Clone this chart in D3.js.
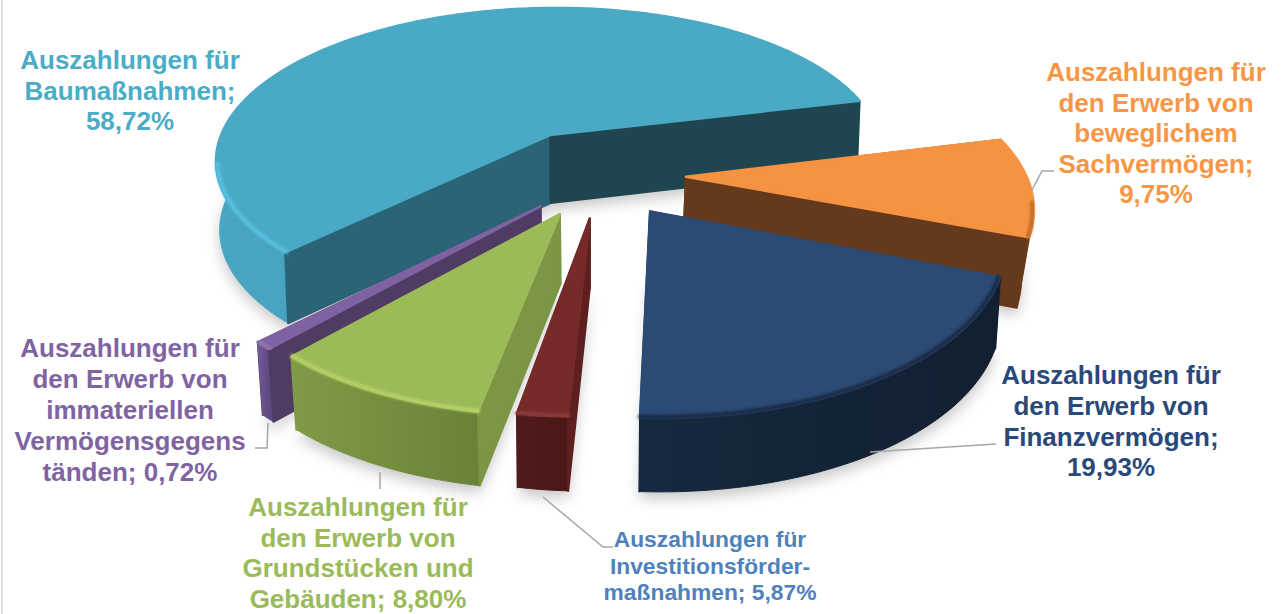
<!DOCTYPE html>
<html><head><meta charset="utf-8">
<script src="https://cdnjs.cloudflare.com/ajax/libs/d3/7.8.5/d3.min.js"></script>
<style>html,body{margin:0;padding:0;background:#fff;overflow:hidden}svg{display:block}text{font-family:"Liberation Sans",Arial,sans-serif;font-weight:700}</style>
</head><body><svg id="c" width="1287" height="614"></svg>
<script>
// ---- data ----
const categories = ["Baumaßnahmen","Bewegliches Sachvermögen","Finanzvermögen","Investitionsfördermaßnahmen","Grundstücke und Gebäude","Immaterielle Vermögensgegenstände"];
const plottedShares = [58.72, 9.75, 19.93, 2.08, 8.80, 0.72];
const labelLines = [
 ["Auszahlungen für","Baumaßnahmen;","58,72%"],
 ["Auszahlungen für","den Erwerb von","beweglichem","Sachvermögen;","9,75%"],
 ["Auszahlungen für","den Erwerb von","Finanzvermögen;","19,93%"],
 ["Auszahlungen für","Investitionsförder-","maßnahmen; 5,87%"],
 ["Auszahlungen für","den Erwerb von","Grundstücken und","Gebäuden; 8,80%"],
 ["Auszahlungen für","den Erwerb von","immateriellen","Vermögensgegens","tänden; 0,72%"]
];
const topColors  = ["#4aa9c5","#f59343","#2b4b75","#772a2a","#9bbb59","#7f62a1"];
const textColors = ["#4bacc6","#f79646","#28497a","#4f81bd","#9bbb59","#8064a2"];
const startWalls = ["#2b6477","#653a1c","#16283f","#5e1f1f","#7c9645","#503c63"];
const endWalls   = ["#1f4650","#653a1c","#16283f","#5e1f1f","#7c9645","#503c63"];
const rimStops   = [["#49a6c3","#3b8dab"],["#a85f22","#7a4518"],["#16293f","#111f30"],["#4f1a1a","#4a1717"],["#7f9b47","#6a8238"],["#73599a","#5f4a80"]];
const bevels     = ["#58c3e3","#b86a26","#152740","#8c3c3c","#b7d469","#8f78b0"];

// ---- layout ----
const cx=590, cy=171, R=345, A=158, persp=0.16, explode=0.272, startDeg=-135.4;
const nudgeX=[5,2,7,11,13,17];
const nudgeY=[0,3,3,3,3,3];
const radiusX=[0.99,0.985,0.975,0.92,0.96,0.966];
const radiusY=[1,1,1.01,0.965,0.985,1];
const baseScale=[0.99,0.972,0.988,0.99,0.983,0.985];
const drawOrder=[0,1,5,4,3,2];
const labelAnchors=[[130,69,26,30.6],[1156,81,26,30.6],[1111,384,26,30.8],[710,547,22.8,26.5],[358,516,26,30.6],[130,357,26,31]];
const leaders=[[[1032,190],[1042,171],[1054,171]],[[870,452],[996,444]],[[543,497],[603,547],[613,547]],[[380,472],[380,489]],[[268,423],[267,448],[255,448]]];

const svg=d3.select("#c");
const defs=svg.append("defs");
defs.append("filter").attr("id","soft").attr("x","-20%").attr("y","-20%").attr("width","140%").attr("height","140%")
  .append("feGaussianBlur").attr("stdDeviation",7);
defs.append("filter").attr("id","bev").attr("x","-20%").attr("y","-20%").attr("width","140%").attr("height","140%")
  .append("feGaussianBlur").attr("stdDeviation",1.6);

svg.append("rect").attr("x",1).attr("y",0).attr("width",1.6).attr("height",614).attr("fill","#d9d9d9");

const xS=d3.scaleLinear().domain([-1,1]).range([cx-R,cx+R]);
const yS=d3.scaleLinear().domain([-1,1]).range([cy-A,cy+A]);
const arcs=d3.pie().sort(null).startAngle(startDeg*Math.PI/180).endAngle((startDeg+360)*Math.PI/180)(plottedShares);
const line=d3.line();

function proj(i,theta,r){
  const a=arcs[i], mid=(a.startAngle+a.endAngle)/2;
  const px=explode*Math.sin(mid)+r*radiusX[i]*Math.sin(theta);
  const pz=-explode*Math.cos(mid)-r*radiusY[i]*Math.cos(theta);
  const s=1/(1-persp*pz);
  return {x:xS(px*s)+nudgeX[i], y:yS(pz*s)+nudgeY[i], pz, i};
}
const top2=p=>[p.x,p.y];
const bot2=p=>[cx+(p.x-cx)*baseScale[p.i], p.y+69+4*p.pz];
function rimThetas(a0,a1){return d3.range(0,1.0001,1/Math.max(6,Math.ceil((a1-a0)/0.015))).map(t=>a0+(a1-a0)*t);}
function face(i,th){
  const ap=proj(i,0,0), c=proj(i,th,1);
  return [top2(ap),top2(c),bot2(c),bot2(ap)];
}
const closed=pts=>line(pts)+"Z";

drawOrder.forEach(i=>{
  const a=arcs[i], ths=rimThetas(a.startAngle,a.endAngle);
  const rim=ths.map(t=>proj(i,t,1));
  const ap=proj(i,0,0);
  const topPts=[top2(ap),...rim.map(top2)];
  const botPts=[bot2(ap),...rim.map(bot2)];
  const rimPoly=[...rim.map(top2),...rim.map(bot2).reverse()];

  const gs=svg.append("g").attr("class","shadow").attr("filter","url(#soft)").attr("transform","translate(0,7)").attr("opacity",0.32);
  gs.append("path").attr("d",closed(botPts)).attr("fill","#555");

  const gid="rim"+i, xs=rim.map(p=>p.x);
  const g=defs.append("linearGradient").attr("id",gid).attr("gradientUnits","userSpaceOnUse")
    .attr("x1",d3.min(xs)).attr("x2",d3.max(xs)).attr("y1",0).attr("y2",0);
  g.append("stop").attr("offset",0).attr("stop-color",rimStops[i][0]);
  g.append("stop").attr("offset",1).attr("stop-color",rimStops[i][1]);

  const wall=(th,col)=>svg.append("path").attr("d",closed(face(i,th))).attr("fill",col).attr("stroke",col).attr("stroke-width",2).attr("stroke-linejoin","round");
  const faces=th=>Math.cos(th)<0;
  const sVisible=faces(a.startAngle-Math.PI/2), eVisible=faces(a.endAngle+Math.PI/2);
  if(!sVisible) wall(a.startAngle,startWalls[i]);
  if(!eVisible) wall(a.endAngle,endWalls[i]);
  svg.append("path").attr("d",closed(rimPoly)).attr("fill",`url(#${gid})`).attr("stroke",`url(#${gid})`).attr("stroke-width",1);
  if(sVisible) wall(a.startAngle,startWalls[i]);
  if(eVisible) wall(a.endAngle,endWalls[i]);

  svg.append("path").attr("d",closed(topPts)).attr("fill",topColors[i]).attr("stroke",topColors[i]).attr("stroke-width",2.5).attr("stroke-linejoin","round");

  const lo=Math.PI*0.55, hi=Math.PI*1.44;
  const norm=t=>((t%(2*Math.PI))+2*Math.PI)%(2*Math.PI);
  const bev=ths.filter(t=>norm(t)>=lo&&norm(t)<=hi).map(t=>top2(proj(i,t,0.996)));
  if(bev.length>1) svg.append("path").attr("d",line(bev)).attr("fill","none").attr("stroke",bevels[i]).attr("stroke-width",4).attr("stroke-linecap","round").attr("filter","url(#bev)");
});

leaders.forEach(l=>svg.append("path").attr("d",line(l)).attr("fill","none").attr("stroke","#a6a6a6").attr("stroke-width",1.5));

labelLines.forEach((ls,i)=>{
  const [x,y,fs,lh]=labelAnchors[i];
  const t=svg.append("text").attr("text-anchor","middle").attr("font-size",fs).attr("fill",textColors[i]).attr("aria-label",categories[i]);
  ls.forEach((s,k)=>t.append("tspan").attr("x",x).attr("y",y+k*lh).text(s));
});
</script></body></html>
